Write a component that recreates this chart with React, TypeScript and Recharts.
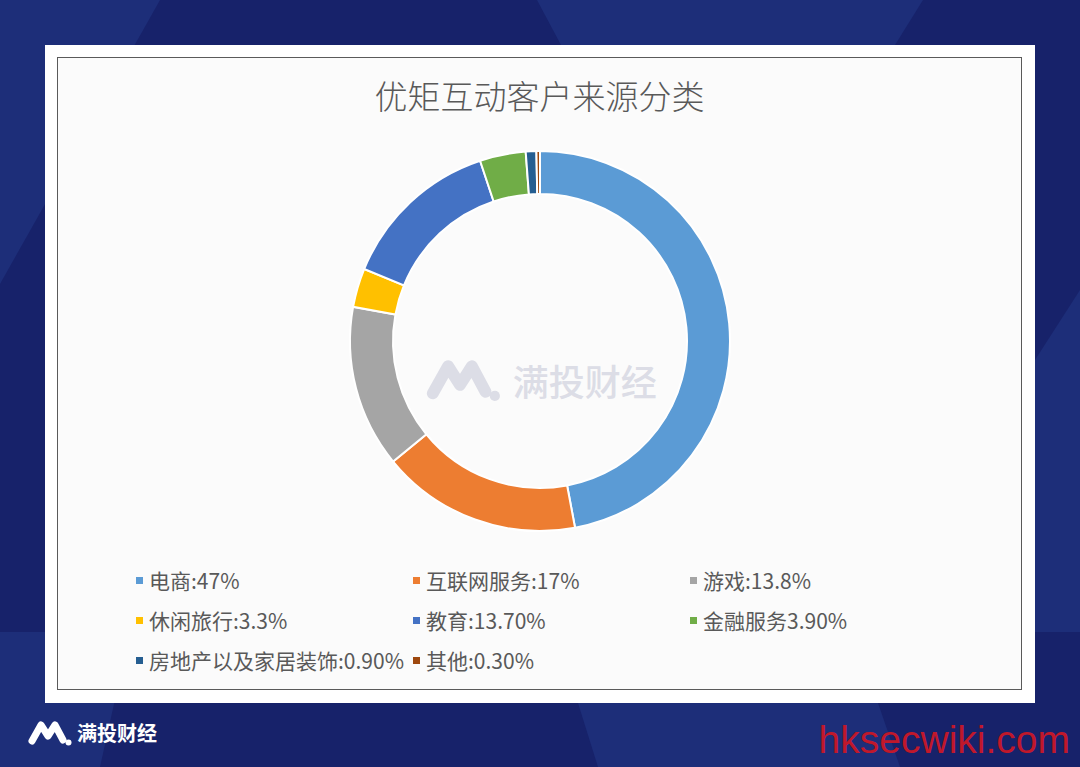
import React from "react";
import { PieChart, Pie, Cell, Legend } from "recharts";

// 客户来源分类（百分比）
const categories = [
    "电商",
    "互联网服务",
    "游戏",
    "休闲旅行",
    "教育",
    "金融服务",
    "房地产以及家居装饰",
    "其他",
];
const shares = [47, 17, 13.8, 3.3, 13.7, 3.9, 0.9, 0.3];
const legendLabels = [
    "电商:47%",
    "互联网服务:17%",
    "游戏:13.8%",
    "休闲旅行:3.3%",
    "教育:13.70%",
    "金融服务3.90%",
    "房地产以及家居装饰:0.90%",
    "其他:0.30%",
];
const colors = [
    "#5B9BD5",
    "#ED7D31",
    "#A5A5A5",
    "#FFC000",
    "#4472C4",
    "#70AD47",
    "#255E91",
    "#9E480E",
];

const chartData = categories.map((name, i) => ({
    name,
    value: shares[i],
    label: legendLabels[i],
    fill: colors[i],
}));

const CJK = '"Noto Sans CJK SC", "Noto Sans", sans-serif';

// 满投财经 logo
const Logo = ({ color, scale }: { color: string; scale: number }) => (
    <svg width={44 * scale} height={28 * scale} viewBox="0 0 44 28">
        <polyline
            points="4,22 13,6 20,17 27,6 35,21"
            fill="none"
            stroke={color}
            strokeWidth={7}
            strokeLinecap="round"
            strokeLinejoin="round"
        />
        <circle cx={40.5} cy={23.5} r={3} fill={color} />
    </svg>
);

const renderLegend = () => (
    <div
        style={{
            display: "grid",
            gridTemplateColumns: "277px 277px 277px",
            gridAutoRows: "40px",
            fontFamily: CJK,
            fontSize: 21,
            color: "#595959",
        }}
    >
        {chartData.map((d) => (
            <div
                key={d.name}
                style={{ display: "flex", alignItems: "center", whiteSpace: "nowrap" }}
            >
                <span
                    style={{
                        width: 7,
                        height: 7,
                        background: d.fill,
                        marginRight: 6,
                        flex: "none",
                    }}
                />
                <span>{d.label}</span>
            </div>
        ))}
    </div>
);

const App = () => {
    return (
        <div
            style={{
                position: "fixed",
                left: 0,
                top: 0,
                width: 1080,
                height: 767,
                overflow: "hidden",
                background: "#17226a",
            }}
        >
            {/* 背景斜块 */}
            <svg
                width={1080}
                height={767}
                style={{ position: "absolute", left: 0, top: 0 }}
            >
                <polygon points="0,0 160,0 0,284" fill="#1d2e79" />
                <polygon points="537,0 923,0 895,45 561,45" fill="#1d2e79" />
                <polygon points="1080,290 1035,360 1035,632 1080,632" fill="#1d2e79" />
                <polygon points="0,632 130,632 100,767 0,767" fill="#1d2e79" />
                <polygon points="578,703 878,703 900,767 598,767" fill="#1d2e79" />
            </svg>

            {/* 白色卡片 */}
            <div
                style={{
                    position: "absolute",
                    left: 45,
                    top: 45,
                    width: 990,
                    height: 658,
                    background: "#ffffff",
                }}
            />

            <div
                style={{
                    position: "absolute",
                    left: 57,
                    top: 57,
                    width: 965,
                    height: 633,
                    boxSizing: "border-box",
                    border: "1px solid #5a5a5a",
                    background: "#fbfbfb",
                }}
            >
                <div
                    style={{
                        position: "absolute",
                        left: 0,
                        top: 15,
                        width: "100%",
                        textAlign: "center",
                        fontFamily: CJK,
                        fontSize: 33,
                        fontWeight: 300,
                        color: "#595959",
                        lineHeight: "44px",
                    }}
                >
                    优矩互动客户来源分类
                </div>

                {/* 水印 */}
                <div
                    style={{
                        position: "absolute",
                        left: 368,
                        top: 296,
                        display: "flex",
                        alignItems: "center",
                        gap: 12,
                        fontFamily: CJK,
                        fontSize: 36,
                        color: "#dcdde6",
                        fontWeight: 500,
                    }}
                >
                    <Logo color="#dcdde6" scale={1.7} />
                    <span>满投财经</span>
                </div>

                <PieChart
                    width={963}
                    height={631}
                    margin={{ top: 0, right: 0, bottom: 0, left: 0 }}
                    style={{ position: "absolute", left: 0, top: 0 }}
                >
                    <Pie
                        data={chartData}
                        dataKey="value"
                        nameKey="name"
                        cx={482}
                        cy={283}
                        innerRadius={147}
                        outerRadius={190}
                        startAngle={90}
                        endAngle={-270}
                        stroke="#ffffff"
                        strokeWidth={2}
                        isAnimationActive={false}
                    >
                        {chartData.map((d) => (
                            <Cell key={d.name} fill={d.fill} />
                        ))}
                    </Pie>
                    <Legend
                        content={renderLegend}
                        wrapperStyle={{
                            position: "absolute",
                            left: 78,
                            top: 502,
                            width: 840,
                        }}
                    />
                </PieChart>
            </div>

            {/* 底部品牌 */}
            <div
                style={{
                    position: "absolute",
                    left: 28,
                    top: 718,
                    display: "flex",
                    alignItems: "center",
                    gap: 5,
                    fontFamily: CJK,
                    fontSize: 20,
                    fontWeight: 700,
                    color: "#ffffff",
                }}
            >
                <Logo color="#ffffff" scale={1} />
                <span>满投财经</span>
            </div>
            <div
                style={{
                    position: "absolute",
                    right: 10,
                    top: 716,
                    fontFamily: '"Liberation Sans", Arial, sans-serif',
                    fontSize: 39,
                    color: "#c0182b",
                    lineHeight: "48px",
                }}
            >
                hksecwiki.com
            </div>
        </div>
    );
};

export default App;
